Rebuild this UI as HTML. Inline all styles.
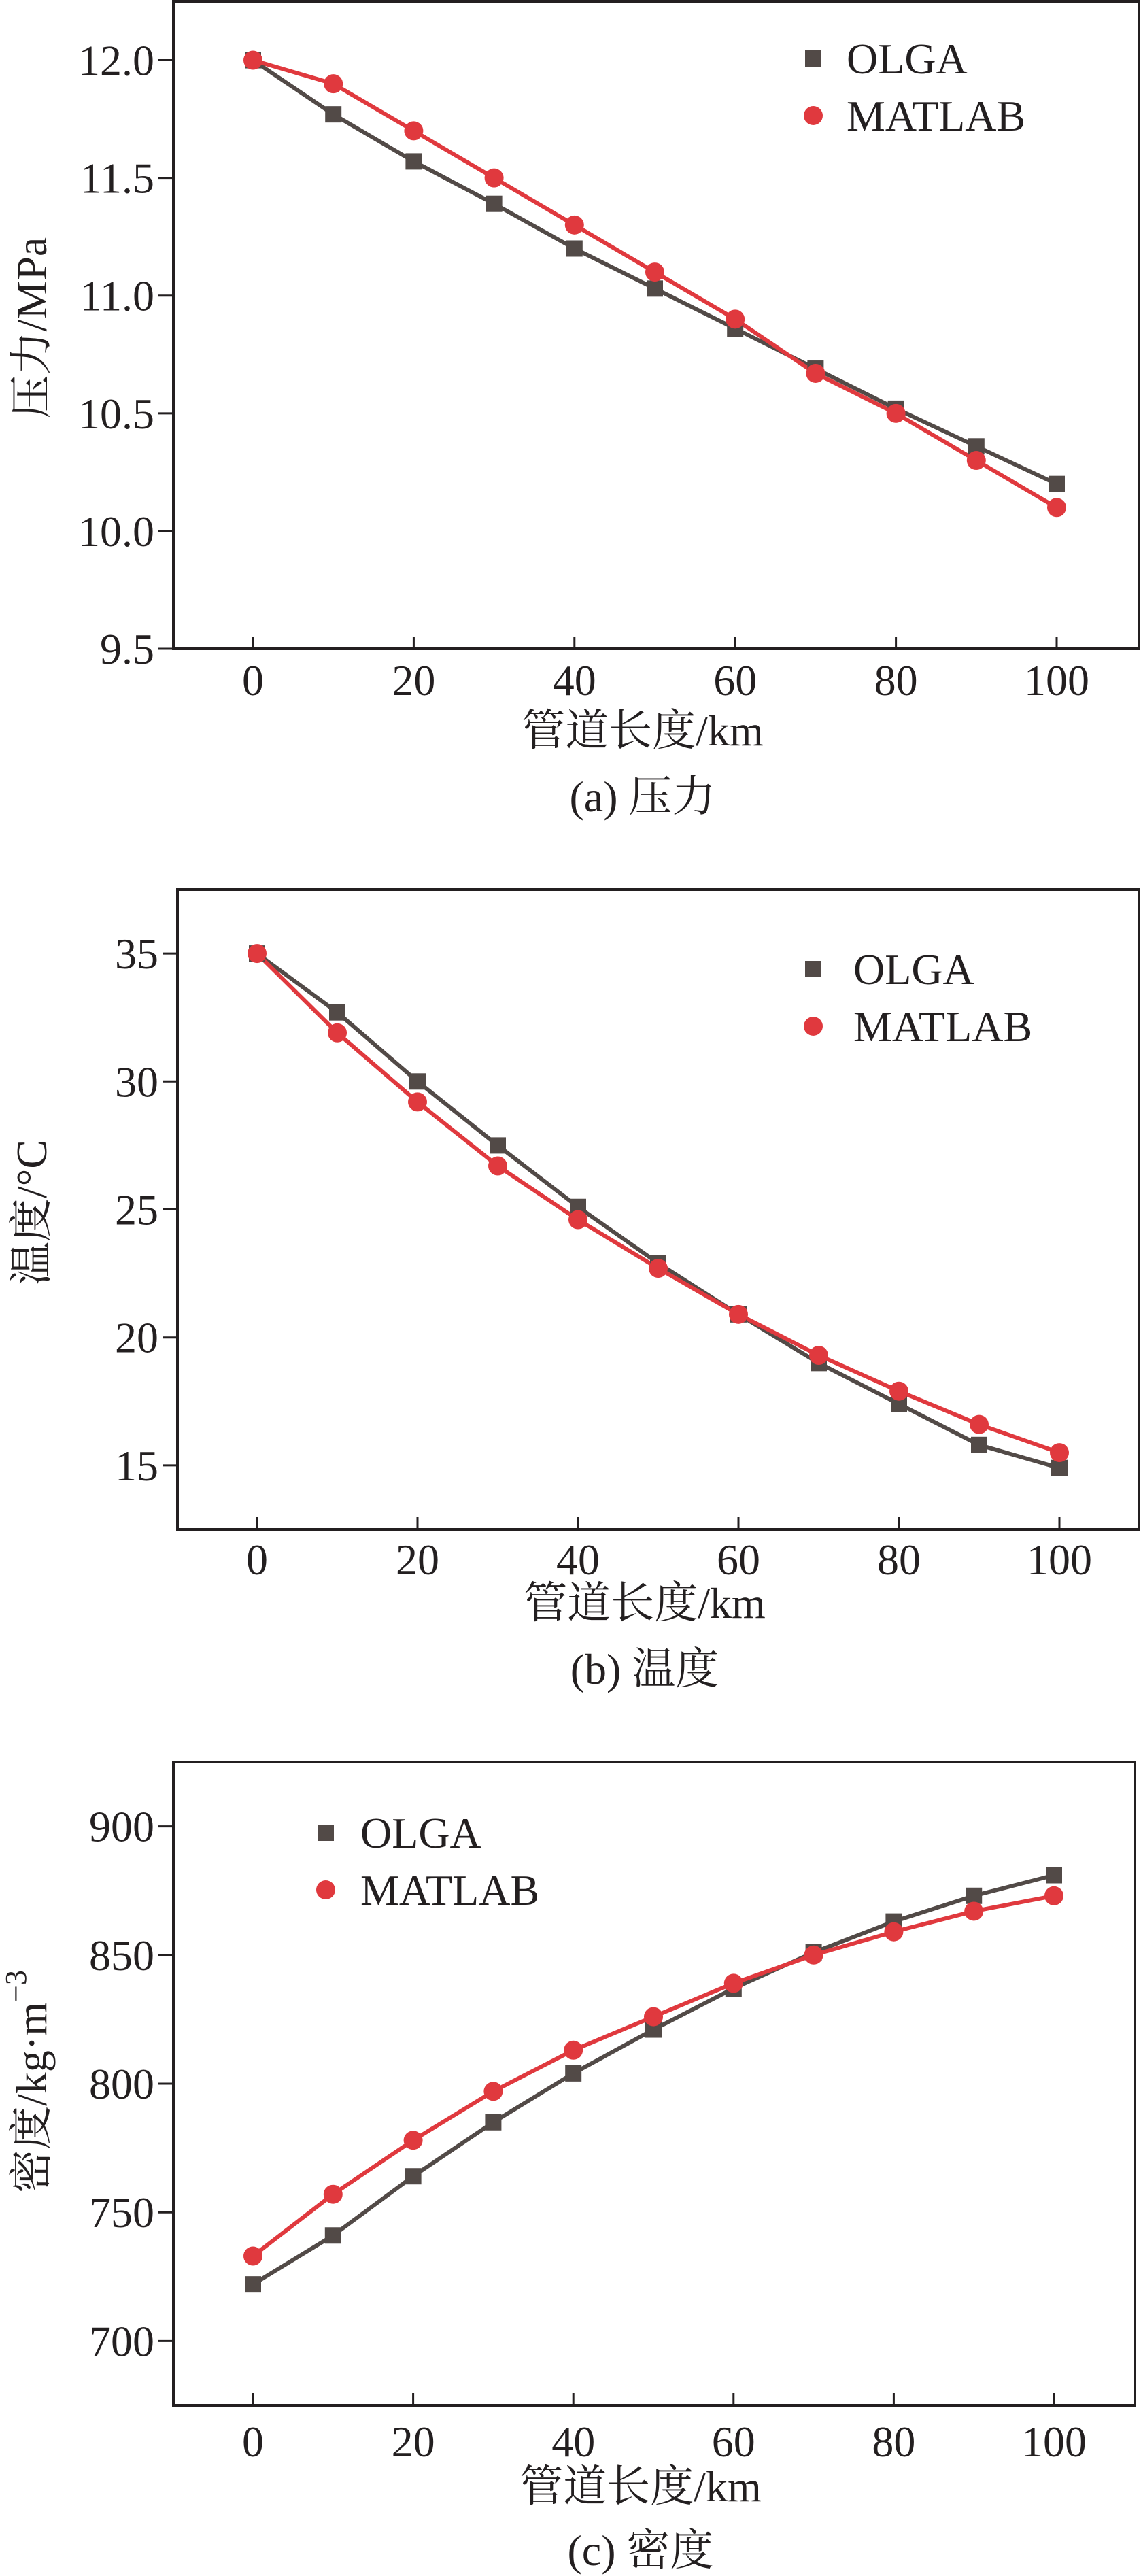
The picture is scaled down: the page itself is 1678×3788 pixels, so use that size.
<!DOCTYPE html>
<html><head><meta charset="utf-8"><style>
html,body{margin:0;padding:0;background:#fff;}
svg{display:block;}
svg text{font-family:"Liberation Serif","Times New Roman","Noto Serif CJK SC",serif;fill:#231f20;}
</style></head><body>
<svg id="fig" width="1678" height="3788" viewBox="0 0 1678 3788" font-family="Liberation Serif, Noto Serif CJK SC, serif" xmlns="http://www.w3.org/2000/svg"></svg>
<script>
const xCats = [0,10,20,30,40,50,60,70,80,90,100];
const xTicks = [0,20,40,60,80,100];
const pOLGA = [12.0,11.77,11.57,11.39,11.20,11.03,10.86,10.69,10.52,10.36,10.20];
const pMATLAB = [12.0,11.9,11.7,11.5,11.3,11.1,10.9,10.67,10.5,10.3,10.1];
const pTicks = [9.5,10.0,10.5,11.0,11.5,12.0];
const tOLGA = [35,32.7,30,27.5,25.1,22.9,20.9,19.0,17.4,15.8,14.9];
const tMATLAB = [35,31.9,29.2,26.7,24.6,22.7,20.9,19.3,17.9,16.6,15.5];
const tTicks = [15,20,25,30,35];
const dOLGA = [722,741,764,785,804,821,837,851,863,873,881];
const dMATLAB = [733,757,778,797,813,826,839,850,859,867,873];
const dTicks = [700,750,800,850,900];

const NS="http://www.w3.org/2000/svg";
const svg=document.getElementById('fig');
const FF='Liberation Serif, Noto Serif CJK SC, serif';
function mk(tag,attrs,parent){const e=document.createElementNS(NS,tag);for(const k in attrs)e.setAttribute(k,attrs[k]);if(tag==='text')e.setAttribute('font-family',FF);(parent||svg).appendChild(e);return e;}
const DARK="#524a47", RED="#e0393e";

function chart(cfg){
  const g=mk('g',{});
  
  
  const xs=v=>cfg.x0+(v-0)/100*(cfg.x100-cfg.x0);
  const ys=v=>cfg.bottom-(v-cfg.ymin)/(cfg.ymax-cfg.ymin)*(cfg.bottom-cfg.top);
  const box=mk('rect',{x:cfg.left,y:cfg.top,width:cfg.right-cfg.left,height:cfg.bottom-cfg.top,fill:'none',stroke:'#231f20','stroke-width':4},g);
  
  
  cfg.yTicks.forEach(v=>{
    const y=ys(v);
    mk('line',{x1:cfg.left-22,x2:cfg.left,y1:y,y2:y,stroke:'#231f20','stroke-width':3},g);
    const t=mk('text',{x:cfg.left-28,y:y+22,'font-size':64,'text-anchor':'end'},g);
    t.textContent=cfg.fmt(v);
    
    
  });
  xTicks.forEach(v=>{
    const x=xs(v);
    mk('line',{x1:x,x2:x,y1:cfg.bottom,y2:cfg.bottom-18,stroke:'#231f20','stroke-width':3},g);
    const t=mk('text',{x:x,y:cfg.xtY+22,'font-size':64,'text-anchor':'middle'},g);
    t.textContent=v;
    
    
  });
  const xl=mk('text',{x:(cfg.left+cfg.right)/2-20,y:cfg.xlY+22,'font-size':64,'text-anchor':'middle'},g);
  xl.textContent='管道长度/km';
  
  
  const yl=mk('text',{x:0,y:0,'font-size':64,'text-anchor':'middle',transform:`translate(${cfg.ylX+22},${cfg.ylY}) rotate(-90)`},g);
  yl.innerHTML=cfg.ylabel;
  
  
  const cap=mk('text',{x:(cfg.left+cfg.right)/2-20,y:cfg.capY+22,'font-size':64,'text-anchor':'middle'},g);
  cap.textContent=cfg.caption;
  
  
  const sO=mk('polyline',{points:xCats.map((c,i)=>xs(c)+','+ys(cfg.olga[i])).join(' '),fill:'none',stroke:DARK,'stroke-width':6},g);
  
  
  const sM=mk('polyline',{points:xCats.map((c,i)=>xs(c)+','+ys(cfg.matlab[i])).join(' '),fill:'none',stroke:RED,'stroke-width':6},g);
  
  
  xCats.forEach((c,i)=>{
    const r=mk('rect',{x:xs(c)-12,y:ys(cfg.olga[i])-12,width:24,height:24,fill:DARK},g);
    
    
  });
  xCats.forEach((c,i)=>{
    const ci=mk('circle',{cx:xs(c),cy:ys(cfg.matlab[i]),r:14,fill:RED},g);
    
    
  });
  const l1=mk('rect',{x:cfg.legX-12,y:cfg.leg1-12,width:24,height:24,fill:DARK},g);
  
  
  const lt1=mk('text',{x:cfg.legTX,y:cfg.leg1+22,'font-size':64},g);
  lt1.textContent='OLGA';
  
  
  const l2=mk('circle',{cx:cfg.legX,cy:cfg.leg2,r:14,fill:RED},g);
  
  
  const lt2=mk('text',{x:cfg.legTX,y:cfg.leg2+22,'font-size':64},g);
  lt2.textContent='MATLAB';
  
  
}

chart({name:'pressure-chart',left:255,right:1675,top:2,bottom:954,x0:372,x100:1554,ymin:9.5,ymax:12.25,
  yTicks:pTicks,fmt:v=>v.toFixed(1),olga:pOLGA,matlab:pMATLAB,xtY:1000,xlY:1074,capY:1171,ylX:46,ylY:482,
  ylabel:'压力/MPa',caption:'(a) 压力',legX:1196,legTX:1245,leg1:86,leg2:170});
chart({name:'temperature-chart',left:261,right:1675,top:1308,bottom:2249,x0:378,x100:1558,ymin:12.5,ymax:37.5,
  yTicks:tTicks,fmt:v=>String(v),olga:tOLGA,matlab:tMATLAB,xtY:2293,xlY:2357,capY:2454,ylX:46,ylY:1783,
  ylabel:'温度/°C',caption:'(b) 温度',legX:1196,legTX:1255,leg1:1425,leg2:1509});
chart({name:'density-chart',left:255,right:1669,top:2591,bottom:3537,x0:372,x100:1550,ymin:675,ymax:925,
  yTicks:dTicks,fmt:v=>String(v),olga:dOLGA,matlab:dMATLAB,xtY:3590,xlY:3656,capY:3750,ylX:46,ylY:3061,
  ylabel:'密度/kg·m<tspan dy="-30" font-size="44">−3</tspan>',caption:'(c) 密度',legX:479,legTX:530,leg1:2695,leg2:2779});
</script>
</body></html>
